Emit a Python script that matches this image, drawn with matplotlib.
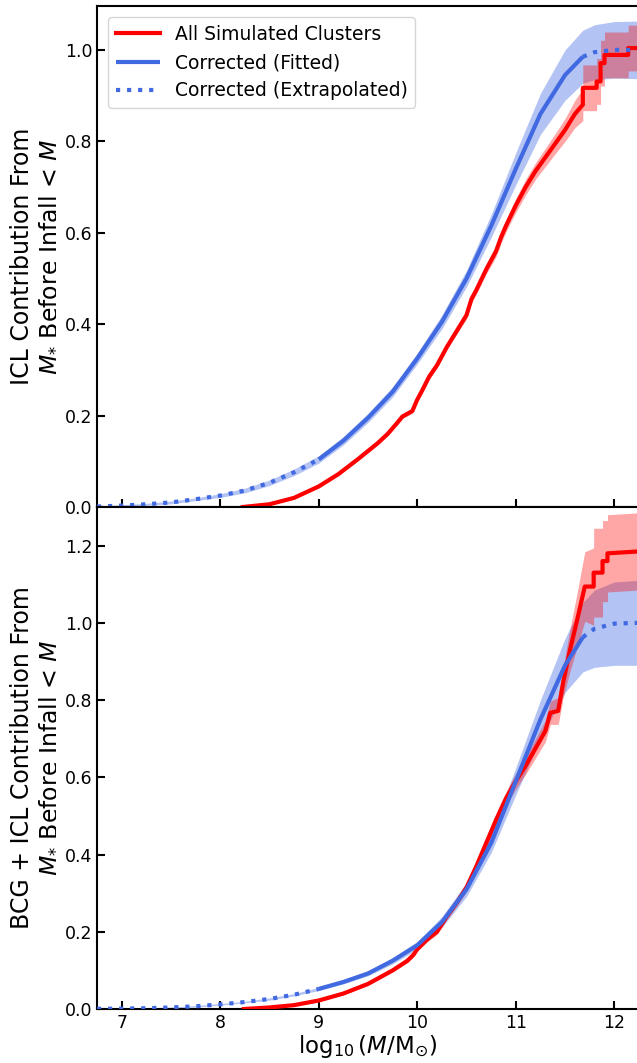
import numpy as np
import matplotlib
matplotlib.use("Agg")
import matplotlib.pyplot as plt

# ---------------- data ----------------
# Top panel: ICL only
top_red_x = [8.23, 8.5, 8.75, 9.0, 9.2, 9.4, 9.6, 9.7, 9.8, 9.85, 9.95, 10.0, 10.05,
             10.12, 10.2, 10.3, 10.4, 10.5, 10.55, 10.6, 10.7, 10.8, 10.85, 10.9,
             11.0, 11.1, 11.2, 11.3, 11.4, 11.5, 11.6, 11.68, 11.68, 11.82, 11.82,
             11.86, 11.86, 11.9, 11.9, 12.14, 12.14, 12.25]
top_red_y = [0.0, 0.006, 0.02, 0.045, 0.072, 0.105, 0.14, 0.16, 0.185, 0.198, 0.21,
             0.235, 0.255, 0.285, 0.31, 0.35, 0.385, 0.42, 0.455, 0.475, 0.52, 0.56,
             0.59, 0.615, 0.66, 0.70, 0.735, 0.765, 0.795, 0.825, 0.86, 0.88, 0.917,
             0.917, 0.931, 0.931, 0.971, 0.971, 0.989, 0.989, 1.004, 1.004]
top_red_err = [0.002, 0.002, 0.002, 0.003, 0.003, 0.003, 0.004, 0.004, 0.004, 0.004,
               0.005, 0.005, 0.005, 0.006, 0.006, 0.006, 0.007, 0.008, 0.009, 0.009,
               0.01, 0.012, 0.013, 0.013, 0.015, 0.017, 0.018, 0.02, 0.022, 0.025,
               0.03, 0.035, 0.05, 0.05, 0.05, 0.05, 0.05, 0.05, 0.05, 0.05, 0.05, 0.05]

top_blue_x = [6.75, 7.0, 7.25, 7.5, 7.75, 8.0, 8.25, 8.5, 8.75, 9.0, 9.25, 9.5, 9.75,
              10.0, 10.25, 10.5, 10.75, 11.0, 11.25, 11.5, 11.68, 11.8, 12.0, 12.25]
top_blue_y = [0.001, 0.003, 0.006, 0.010, 0.017, 0.025, 0.036, 0.053, 0.076, 0.104,
              0.145, 0.195, 0.252, 0.325, 0.405, 0.50, 0.615, 0.74, 0.86, 0.945, 0.985,
              0.995, 1.0, 1.0]
top_blue_err = [0.001, 0.002, 0.002, 0.003, 0.003, 0.004, 0.005, 0.006, 0.007, 0.008,
                0.009, 0.01, 0.011, 0.012, 0.015, 0.018, 0.025, 0.035, 0.045, 0.055,
                0.058, 0.06, 0.062, 0.063]

# Bottom panel: BCG + ICL
bot_red_x = [8.24, 8.5, 8.75, 9.0, 9.25, 9.5, 9.75, 9.9, 9.96, 10.0, 10.1, 10.2, 10.3,
             10.4, 10.5, 10.6, 10.7, 10.8, 10.9, 11.0, 11.1, 11.2, 11.3, 11.35, 11.43,
             11.48, 11.55, 11.62, 11.7, 11.79, 11.79, 11.88, 11.88, 11.93, 11.93, 12.25]
bot_red_y = [0.0, 0.004, 0.01, 0.022, 0.04, 0.065, 0.1, 0.125, 0.14, 0.155, 0.18, 0.2,
             0.24, 0.275, 0.315, 0.37, 0.43, 0.49, 0.545, 0.59, 0.63, 0.675, 0.72,
             0.767, 0.772, 0.845, 0.93, 1.005, 1.094, 1.094, 1.13, 1.13, 1.16, 1.16,
             1.18, 1.185]
bot_red_err = [0.002, 0.002, 0.002, 0.003, 0.003, 0.004, 0.004, 0.005, 0.005, 0.006,
               0.006, 0.007, 0.008, 0.009, 0.01, 0.012, 0.014, 0.016, 0.018, 0.02,
               0.022, 0.025, 0.028, 0.03, 0.035, 0.04, 0.055, 0.07, 0.09, 0.1, 0.115,
               0.115, 0.105, 0.105, 0.1, 0.1]

bot_blue_x = top_blue_x
bot_blue_y = [0.0005, 0.001, 0.002, 0.004, 0.007, 0.012, 0.018, 0.026, 0.037, 0.052,
              0.07, 0.092, 0.125, 0.165, 0.225, 0.31, 0.43, 0.59, 0.75, 0.89, 0.963,
              0.985, 0.998, 1.0]
bot_blue_err = [0.001, 0.001, 0.001, 0.001, 0.002, 0.002, 0.002, 0.003, 0.003, 0.004,
                0.005, 0.006, 0.008, 0.01, 0.014, 0.018, 0.025, 0.035, 0.05, 0.07,
                0.09, 0.1, 0.108, 0.11]

fit_lo, fit_hi = 9.0, 11.68  # fitted range; outside is extrapolated

xticks = [7, 8, 9, 10, 11, 12]
top_yticks = [0.0, 0.2, 0.4, 0.6, 0.8, 1.0]
bot_yticks = [0.0, 0.2, 0.4, 0.6, 0.8, 1.0, 1.2]

RED = "#ff0000"
BLUE = "#4169e1"

# ---------------- figure ----------------
plt.rcParams["font.family"] = "DejaVu Sans"
fig = plt.figure(figsize=(6.37, 10.63), dpi=100)
W, H = 637, 1063
left = 97 / W
right = 639 / W
ax1 = fig.add_axes([left, 1 - 507 / H, right - left, (507 - 6) / H])
ax2 = fig.add_axes([left, 1 - 1009 / H, right - left, (1009 - 507) / H])


def draw(ax, rx, ry, rerr, bx, by, berr):
    rx, ry, rerr = map(np.asarray, (rx, ry, rerr))
    bx, by, berr = map(np.asarray, (bx, by, berr))
    ax.fill_between(bx, by - berr, by + berr, color=BLUE, alpha=0.4, lw=0, zorder=1)
    ax.fill_between(rx, ry - rerr, ry + rerr, color=RED, alpha=0.35, lw=0, zorder=2)
    ax.plot(rx, ry, color=RED, lw=3, zorder=3, label="All Simulated Clusters")
    fit = (bx >= fit_lo) & (bx <= fit_hi)
    ax.plot(bx[fit], by[fit], color=BLUE, lw=3, zorder=4,
            solid_capstyle="butt", label="Corrected (Fitted)")
    low = bx <= fit_lo
    high = bx >= fit_hi
    ax.plot(bx[low], by[low], color=BLUE, lw=3, ls=":", zorder=4,
            label="Corrected (Extrapolated)")
    ax.plot(bx[high], by[high], color=BLUE, lw=3, ls=":", zorder=4)


draw(ax1, top_red_x, top_red_y, top_red_err, top_blue_x, top_blue_y, top_blue_err)
draw(ax2, bot_red_x, bot_red_y, bot_red_err, bot_blue_x, bot_blue_y, bot_blue_err)

for ax in (ax1, ax2):
    ax.set_xlim(6.75, 12.25)
    ax.set_xticks(xticks)
    ax.tick_params(direction="in", length=6, width=1.5, labelsize=12.5)
    for s in ax.spines.values():
        s.set_linewidth(1.5)

ax1.set_ylim(0, 1.096)
ax1.set_yticks(top_yticks)
ax1.tick_params(labelbottom=False)
ax2.set_ylim(0, 1.30)
ax2.set_yticks(bot_yticks)
ax2.set_xticklabels([str(t) for t in xticks])

ax1.set_ylabel("ICL Contribution From\n$M_{*}$ Before Infall < $M$", fontsize=17,
               linespacing=1.05)
ax2.set_ylabel("BCG + ICL Contribution From\n$M_{*}$ Before Infall < $M$", fontsize=17,
               linespacing=1.05)
ax2.set_xlabel(r"$\log_{10}(M/\mathrm{M}_{\odot})$", fontsize=16.5, labelpad=1)
fig.align_ylabels([ax1, ax2])

ax1.legend(loc="upper left", fontsize=13.5, handlelength=2.35, labelspacing=0.5,
           borderaxespad=0.6)

fig.savefig("out.png", dpi=100)
